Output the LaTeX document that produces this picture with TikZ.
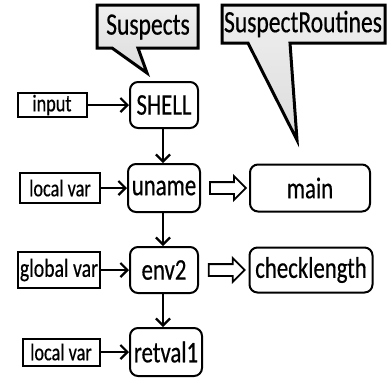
\documentclass[tikz,border=0pt]{standalone}
\usepackage{fontspec}
\setmainfont{Carlito}[FakeStretch=0.76, FakeBold=0.5]
\usetikzlibrary{positioning}
\usetikzlibrary{shapes.arrows}
\usetikzlibrary{arrows.meta}

\tikzset{
  routine/.style={draw, line width=1pt, rounded corners=4pt, inner sep=1pt, font=\fontsize{15}{17}\selectfont},
  source/.style={draw, line width=1pt, inner sep=1pt, font=\fontsize{12}{14}\selectfont},
  flow/.style={-{Straight Barb[length=3.5pt,width=7pt]}, line width=1.1pt},
  hollow/.style={single arrow, draw, line width=0.9pt, inner xsep=0pt, inner ysep=2.5pt,
    minimum height=18pt, single arrow head extend=3pt},
  callout/.style={draw, line width=1.5pt, top color=gray!12, bottom color=gray!28, line join=miter},
  calltext/.style={font=\fontsize{15.5}{17}\selectfont}
}

\begin{document}
\begin{tikzpicture}[x=0.5pt, y=-0.5pt]
\useasboundingbox (0,0) rectangle (389,381);
% callouts
\draw[callout] (97,5) -- (198,5) -- (198,48) -- (138,48) -- (147,73) -- (112,48) -- (97,48) -- cycle;
\draw[callout] (222,5) -- (385,5) -- (385,43) -- (290,43) -- (297,140) -- (248,43) -- (222,43) -- cycle;
\node[calltext] (suspects) at (148,27) {Suspects};
\node[calltext] (routines) at (303,24) {SuspectRoutines};

% variables
\node[routine, minimum width=34pt, minimum height=23pt] (shell) at (164,105) {SHELL};
\node[routine, minimum width=36pt, minimum height=24pt] (uname) at (164,188) {uname};
\node[routine, minimum width=34pt, minimum height=23pt] (env) at (164,270) {env2};
\node[routine, minimum width=36pt, minimum height=24pt] (retval) at (166,352) {retval1};

% routines
\node[routine, minimum width=60pt, minimum height=23.5pt] (main) at (310,188) {main};
\node[routine, minimum width=61.5pt, minimum height=22.5pt] (check) at (311,270) {checklength};

% sources
\node[source, minimum width=34.5pt, minimum height=12pt] (input) at (52,105) {input};
\node[source, minimum width=40pt, minimum height=15pt] (local1) at (60,188) {local var};
\node[source, minimum width=41pt, minimum height=18pt, font=\fontsize{13}{15}\selectfont] (global) at (59,270) {global var};
\node[source, minimum width=38.5pt, minimum height=13.5pt] (local2) at (61,352) {local var};

\draw[flow] (input) -- (shell);
\draw[flow] (local1) -- (uname);
\draw[flow] (global) -- (env);
\draw[flow] (local2) -- (retval);

\draw[flow] (shell.south -| 163,0) -- (uname.north -| 163,0);
\draw[flow] (uname.south -| 163,0) -- (env.north -| 163,0);
\draw[flow] (env.south -| 163,0) -- (retval.north -| 163,0);

\path (uname) -- node[hollow] {} (main);
\path (env) -- node[hollow] {} (check);
\end{tikzpicture}
\end{document}
